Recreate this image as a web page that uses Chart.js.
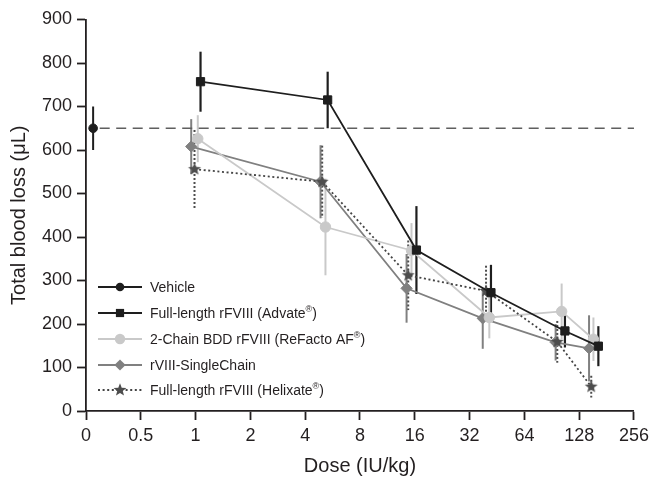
<!DOCTYPE html>
<html>
<head>
<meta charset="utf-8">
<script src="https://cdn.jsdelivr.net/npm/chart.js@4.4.0/dist/chart.umd.min.js"></script>
<style>
  html, body { margin: 0; padding: 0; background: #fff; }
  #wrap { width: 654px; height: 478px; }
</style>
</head>
<body>
<div id="wrap"><canvas id="blood-loss-chart" width="654" height="478"></canvas></div>
<script>
// x positions are in axis steps: 0 -> "0", 1 -> "0.5", 2 -> "1", 3 -> "2" ... 10 -> "256"
var xTickLabels = ['0', '0.5', '1', '2', '4', '8', '16', '32', '64', '128', '256'];

var vehicleX = [0.13];
var vehicleY = [650];
var vehicleErr = [50];

var advateX = [2.09, 4.41, 6.03, 7.39, 8.74, 9.35];
var advateY = [757, 715, 370, 272, 184, 149];
var advateErr = [69, 65, 101, 64, 38, 46];

var refactoX = [2.04, 4.37, 5.94, 7.36, 8.68, 9.26];
var refactoY = [626, 423, 369, 215, 229, 165];
var refactoErr = [54, 111, 63, 48, 64, 50];

var singleX = [1.92, 4.28, 5.85, 7.24, 8.57, 9.18];
var singleY = [608, 527, 282, 213, 158, 144];
var singleErr = [63, 84, 79, 70, 42, 76];

var helixX = [1.98, 4.31, 5.88, 7.30, 8.60, 9.22];
var helixY = [556, 527, 312, 276, 159, 56];
var helixErr = [90, 83, 80, 58, 48, 25];

var refLineX = [0.25, 10];

var textColor = '#231f20';
var fontFamily = '"Liberation Sans", Arial, Helvetica, sans-serif';

function toPoints(xs, ys) {
  return xs.map(function (x, i) { return { x: x, y: ys[i] }; });
}

function makeStar(color, outer, inner) {
  var size = Math.ceil(outer * 2 + 2);
  var c = document.createElement('canvas');
  c.width = size;
  c.height = size;
  var ctx = c.getContext('2d');
  ctx.fillStyle = color;
  ctx.beginPath();
  for (var i = 0; i < 10; i++) {
    var r = i % 2 === 0 ? outer : inner;
    var a = -Math.PI / 2 + i * Math.PI / 5;
    ctx.lineTo(size / 2 + r * Math.cos(a), size / 2 + r * Math.sin(a));
  }
  ctx.closePath();
  ctx.fill();
  return c;
}

var starImg = makeStar('#4d4d4d', 6.8, 2.9);

function series(label, xs, ys, errs, color, style, radius, extra) {
  var ds = {
    label: label,
    data: toPoints(xs, ys),
    errors: errs,
    inLegend: true,
    showLine: true,
    borderColor: color,
    backgroundColor: color,
    borderWidth: 1.8,
    pointStyle: style,
    pointRadius: radius,
    pointBorderWidth: 1,
    pointBorderColor: color,
    pointBackgroundColor: color,
    errColor: color,
    errDash: []
  };
  for (var k in extra) ds[k] = extra[k];
  return ds;
}

var errorBars = {
  id: 'errorBars',
  beforeDatasetsDraw: function (chart) {
    var ctx = chart.ctx;
    var yScale = chart.scales.y;
    chart.data.datasets.forEach(function (ds, di) {
      if (!ds.errors) return;
      var meta = chart.getDatasetMeta(di);
      ctx.save();
      ctx.strokeStyle = ds.errColor;
      ctx.lineWidth = ds.errWidth || 2;
      ctx.setLineDash(ds.errDash);
      meta.data.forEach(function (pt, i) {
        var v = ds.data[i].y;
        ctx.beginPath();
        ctx.moveTo(pt.x, yScale.getPixelForValue(v + ds.errors[i]));
        ctx.lineTo(pt.x, yScale.getPixelForValue(v - ds.errors[i]));
        ctx.stroke();
      });
      ctx.restore();
    });
  }
};

function drawMarker(ctx, style, r, x, y, color) {
  ctx.fillStyle = color;
  ctx.beginPath();
  if (style === 'circle') {
    ctx.arc(x, y, r, 0, Math.PI * 2);
  } else if (style === 'rect') {
    var s = r * Math.SQRT1_2;
    ctx.rect(x - s, y - s, 2 * s, 2 * s);
  } else if (style === 'rectRot') {
    ctx.moveTo(x - r, y);
    ctx.lineTo(x, y - r);
    ctx.lineTo(x + r, y);
    ctx.lineTo(x, y + r);
    ctx.closePath();
  } else {
    ctx.drawImage(style, x - style.width / 2, y - style.height / 2);
    return;
  }
  ctx.fill();
}

var insideLegend = {
  id: 'insideLegend',
  afterDraw: function (chart) {
    var ctx = chart.ctx;
    var area = chart.chartArea;
    var rows = [124, 98, 72, 46, 21];
    var items = chart.data.datasets.filter(function (d) { return d.inLegend; });
    ctx.save();
    items.forEach(function (ds, i) {
      var y = area.bottom - rows[i];
      var x0 = area.left + 12;
      ctx.strokeStyle = ds.borderColor;
      ctx.lineWidth = ds.borderWidth;
      ctx.setLineDash(ds.borderDash || []);
      ctx.beginPath();
      ctx.moveTo(x0, y);
      ctx.lineTo(x0 + 44, y);
      ctx.stroke();
      ctx.setLineDash([]);
      drawMarker(ctx, ds.pointStyle, ds.pointRadius, x0 + 22, y, ds.pointBackgroundColor);
      // label, with a raised small ® like the print version
      var parts = ds.label.split('®');
      var tx = x0 + 52;
      ctx.fillStyle = textColor;
      ctx.textBaseline = 'middle';
      ctx.textAlign = 'left';
      parts.forEach(function (p, j) {
        ctx.font = '14px ' + fontFamily;
        ctx.fillText(p, tx, y + 1);
        tx += ctx.measureText(p).width;
        if (j < parts.length - 1) {
          ctx.font = '9px ' + fontFamily;
          ctx.fillText('®', tx, y - 3);
          tx += ctx.measureText('®').width;
        }
      });
    });
    ctx.restore();
  }
};

var datasets = [
  series('Vehicle', vehicleX, vehicleY, vehicleErr, '#1e1e1e', 'circle', 4.3, { order: 0 }),
  series('Full-length rFVIII (Advate®)', advateX, advateY, advateErr, '#1e1e1e', 'rect', 5.8, { order: 1, errWidth: 2.2 }),
  series('2-Chain BDD rFVIII (ReFacto AF®)', refactoX, refactoY, refactoErr, '#c9c9c9', 'circle', 5.2, { order: 3 }),
  series('rVIII-SingleChain', singleX, singleY, singleErr, '#808080', 'rectRot', 5.6, { order: 4 }),
  series('Full-length rFVIII (Helixate®)', helixX, helixY, helixErr, '#4d4d4d', starImg, 6.5,
    { order: 2, borderDash: [2, 2.6], errDash: [2, 2], borderColor: '#444' }),
  {
    label: 'vehicle mean',
    data: toPoints(refLineX, [vehicleY[0], vehicleY[0]]),
    showLine: true,
    borderColor: '#5f5f5f',
    borderWidth: 1.7,
    borderDash: [10, 6.5],
    pointRadius: 0,
    order: 5
  }
];

new Chart(document.getElementById('blood-loss-chart'), {
  type: 'scatter',
  data: { datasets: datasets },
  plugins: [errorBars, insideLegend],
  options: {
    responsive: false,
    animation: false,
    layout: { autoPadding: false, padding: { top: 19.5, right: 17, left: 0, bottom: 0 } },
    plugins: { legend: { display: false }, tooltip: { enabled: false } },
    scales: {
      x: {
        type: 'linear',
        min: 0,
        max: 10,
        afterFit: function (scale) { scale.height = 67; },
        ticks: {
          stepSize: 1,
          autoSkip: false,
          maxRotation: 0,
          padding: 5,
          color: textColor,
          font: { size: 18, family: fontFamily },
          callback: function (v) { return xTickLabels[v]; }
        },
        grid: { drawOnChartArea: false, drawTicks: true, tickLength: 9, tickWidth: 1.8, tickColor: textColor },
        border: { color: textColor, width: 1.8 },
        title: { display: true, text: 'Dose (IU/kg)', color: textColor, padding: { top: 0, bottom: 0 }, font: { size: 20, family: fontFamily } }
      },
      y: {
        min: 0,
        max: 900,
        afterFit: function (scale) { scale.width = 86; },
        ticks: {
          stepSize: 100,
          padding: 5,
          color: textColor,
          font: { size: 18, family: fontFamily }
        },
        grid: { drawOnChartArea: false, drawTicks: true, tickLength: 9, tickWidth: 1.8, tickColor: textColor },
        border: { color: textColor, width: 1.8 },
        title: { display: true, text: 'Total blood loss (μL)', color: textColor, padding: { top: 7, bottom: 0 }, font: { size: 20, family: fontFamily } }
      }
    }
  }
});
</script>
</body>
</html>
